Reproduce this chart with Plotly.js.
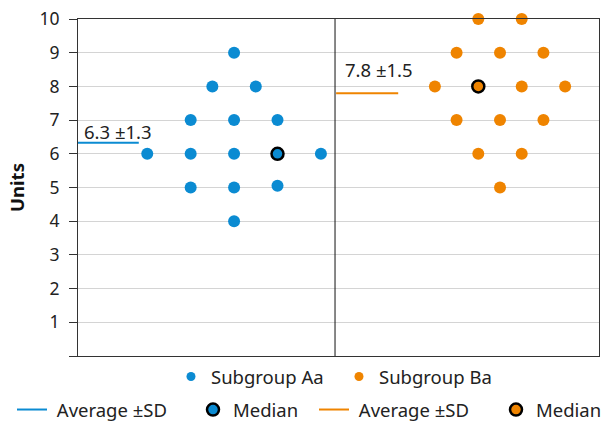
<!DOCTYPE html>
<html>
<head>
<meta charset="utf-8">
<script src="https://cdn.plot.ly/plotly-3.0.1.min.js"></script>
<style>html,body{margin:0;padding:0;background:#fff;}#chart{width:601px;height:423px;}</style>
</head>
<body>
<div id="chart"></div>
<script>
// ---- data ----
var groupNames = ['Subgroup Aa', 'Subgroup Ba'];
var groupAValues = [9, 8, 8, 7, 7, 7, 6, 6, 6, 6, 6, 5, 5, 5.05, 4];
var groupAOffsets = [0, -1, 1, -2, 0, 2, -4, -2, 0, 2, 4, -2, 0, 2, 0];
var groupBValues = [10, 10, 9, 9, 9, 8, 8, 8, 8, 7, 7, 7, 6, 6, 5];
var groupBOffsets = [-1, 1, -2, 0, 2, -3, -1, 1, 3, -2, 0, 2, -1, 1, 0];
var medianA = 6, medianAOffset = 2;
var medianB = 8, medianBOffset = -1;
var averages = [6.33, 7.8];
var avgLabels = ['6.3 ±1.3', '7.8 ±1.5'];
var yTickVals = [0, 1, 2, 3, 4, 5, 6, 7, 8, 9, 10];
var yTickText = ['', '1', '2', '3', '4', '5', '6', '7', '8', '9', '10'];

// ---- layout constants ----
var centerA = 7.19, centerB = 19.44, divider = 11.84;
var blue = '#0b8bd2', orange = '#ef8400';
var font = 'Noto Sans, Open Sans, sans-serif';
var txt = '#222222';

function shift(offs, c) { return offs.map(function (o) { return c + o; }); }

var traces = [
  {x: shift(groupAOffsets, centerA), y: groupAValues, type: 'scatter', mode: 'markers',
   marker: {color: blue, size: 12}, showlegend: false, cliponaxis: false, hoverinfo: 'y'},
  {x: shift(groupBOffsets, centerB), y: groupBValues, type: 'scatter', mode: 'markers',
   marker: {color: orange, size: 12}, showlegend: false, cliponaxis: false, hoverinfo: 'y'},
  // averages
  {x: [0, 2.8], y: [averages[0], averages[0]], type: 'scatter', mode: 'lines',
   line: {color: blue, width: 2}, name: '\u00a0Average ±SD', legend: 'legend2', cliponaxis: false},
  {x: [centerA + medianAOffset], y: [medianA], type: 'scatter', mode: 'markers',
   marker: {color: blue, size: 12, line: {color: '#000', width: 2.5}}, name: 'Median', legend: 'legend2', cliponaxis: false},
  {x: [divider + 0.05, 14.75], y: [averages[1], averages[1]], type: 'scatter', mode: 'lines',
   line: {color: orange, width: 2}, name: '\u00a0Average ±SD', legend: 'legend3', cliponaxis: false},
  {x: [centerB + medianBOffset], y: [medianB], type: 'scatter', mode: 'markers',
   marker: {color: orange, size: 12, line: {color: '#000', width: 2.5}}, name: 'Median', legend: 'legend3', cliponaxis: false},
  // legend-only dots for subgroups
  {x: [null], y: [null], type: 'scatter', mode: 'markers', marker: {color: blue, size: 9},
   name: groupNames[0], legend: 'legend'},
  {x: [null], y: [null], type: 'scatter', mode: 'markers', marker: {color: orange, size: 9},
   name: groupNames[1], legend: 'legend'}
];

function px2x(p) { return (p - 78) / 521; }
function px2y(p) { return (356 - p) / 337; }

var legFont = {family: font, size: 18.5, color: txt};
var layout = {
  width: 601, height: 423,
  margin: {l: 78, r: 2, t: 19, b: 67, autoexpand: false},
  paper_bgcolor: '#fff', plot_bgcolor: '#fff',
  font: {family: font, size: 17, color: txt},
  xaxis: {range: [0, 24], showticklabels: false, showgrid: false, zeroline: false,
          showline: true, mirror: true, linecolor: '#333', linewidth: 1, ticks: ''},
  yaxis: {range: [0, 10], tickvals: yTickVals, ticktext: yTickText, showgrid: true,
          gridcolor: '#d4d4d4', gridwidth: 1, zeroline: false, showline: true, mirror: true,
          linecolor: '#333', linewidth: 1, ticks: 'outside', ticklen: 8, tickcolor: '#333',
          ticklabelstandoff: 6, tickfont: {family: font, size: 17.5, color: txt},
          title: {text: '<b>Units</b>', font: {family: font, size: 18.5, color: '#111'}, standoff: 9}},
  shapes: [{type: 'line', xref: 'x', yref: 'y', x0: divider, x1: divider, y0: 0, y1: 10,
            line: {color: '#111', width: 1}}],
  annotations: [
    {x: 0.2, y: 6.65, xref: 'x', yref: 'y', text: avgLabels[0], showarrow: false,
     xanchor: 'left', yanchor: 'middle', font: {family: font, size: 18.5, color: txt}},
    {x: 12.2, y: 8.49, xref: 'x', yref: 'y', text: avgLabels[1], showarrow: false,
     xanchor: 'left', yanchor: 'middle', font: {family: font, size: 18.5, color: txt}}
  ],
  legend: {orientation: 'h', x: px2x(171), y: px2y(377), xanchor: 'left', yanchor: 'middle',
           xref: 'paper', yref: 'paper', entrywidth: 123, font: legFont, bgcolor: 'rgba(0,0,0,0)'},
  legend2: {orientation: 'h', x: px2x(12), y: px2y(410), xanchor: 'left', yanchor: 'middle',
            xref: 'paper', yref: 'paper', entrywidth: 136, font: legFont, bgcolor: 'rgba(0,0,0,0)'},
  legend3: {orientation: 'h', x: px2x(314), y: px2y(410), xanchor: 'left', yanchor: 'middle',
            xref: 'paper', yref: 'paper', entrywidth: 137, font: legFont, bgcolor: 'rgba(0,0,0,0)'},
  hovermode: false
};

Plotly.newPlot('chart', traces, layout, {displayModeBar: false, staticPlot: true});
</script>
</body>
</html>
